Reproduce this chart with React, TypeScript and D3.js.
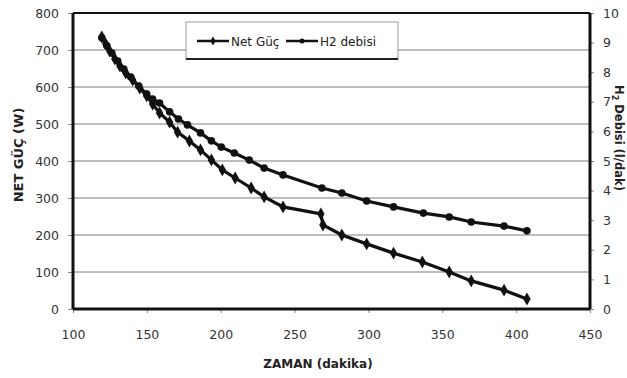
import React, { useEffect, useRef } from 'react';
import * as d3 from 'd3';

// time (dakika) and values
const netTime = [119.5, 122.2, 124.9, 128.3, 131.7, 135.7, 140.4, 145.2, 149.9, 153.9, 158.6, 165.4, 170.8, 178.8, 186.3, 193.7, 201.1, 209.8, 220.6, 229.4, 242.2, 267.8, 269.2, 282, 298.8, 317, 336.5, 354.7, 369.6, 391.8, 407.3];
const netPower = [735, 716, 697, 676, 657, 638, 619, 597, 576, 554, 530, 505, 478, 454, 430, 403, 376, 354, 327, 303, 276, 257, 227, 200, 176, 151, 127, 100, 76, 51, 27];

const h2Time = [119.5, 122.9, 126.3, 130.3, 134.4, 139.1, 144.5, 149.9, 153.9, 158.6, 165.4, 171.4, 177.5, 186.3, 193.7, 200.4, 209.2, 219.3, 229.4, 242.2, 268.5, 282, 298.8, 317, 337.2, 354.7, 369.6, 391.8, 407.3];
const h2Flow = [9.16, 8.89, 8.65, 8.38, 8.11, 7.84, 7.53, 7.26, 7.09, 6.96, 6.66, 6.42, 6.22, 5.95, 5.68, 5.47, 5.27, 5.03, 4.76, 4.53, 4.09, 3.92, 3.65, 3.45, 3.24, 3.11, 2.94, 2.8, 2.64];

const xTicks = [100, 150, 200, 250, 300, 350, 400, 450];
const leftTicks = [0, 100, 200, 300, 400, 500, 600, 700, 800];
const rightTicks = [0, 1, 2, 3, 4, 5, 6, 7, 8, 9, 10];

const W = 627;
const H = 378;
const FONT = 'DejaVu Sans, sans-serif';

export default function App() {
  const svgRef = useRef<SVGSVGElement>(null);

  useEffect(() => {
    const svgEl = svgRef.current;
    if (!svgEl) return;
    const svg = d3.select(svgEl);
    svg.selectAll('*').remove();

    const margin = { top: 13, right: 37, bottom: 69, left: 73 };
    const innerW = W - margin.left - margin.right;
    const innerH = H - margin.top - margin.bottom;

    const x = d3.scaleLinear().domain([100, 450]).range([0, innerW]);
    const yL = d3.scaleLinear().domain([0, 800]).range([innerH, 0]);
    const yR = d3.scaleLinear().domain([0, 10]).range([innerH, 0]);

    const g = svg.append('g').attr('transform', `translate(${margin.left},${margin.top})`);

    // grid lines
    g.selectAll('.grid')
      .data(leftTicks.filter(d => d > 0 && d < 800))
      .enter()
      .append('line')
      .attr('x1', 0)
      .attr('x2', innerW)
      .attr('y1', d => yL(d))
      .attr('y2', d => yL(d))
      .style('stroke', '#7a7a7a')
      .style('stroke-width', 1);

    // axes
    const left = g.append('g').call(d3.axisLeft(yL).tickValues(leftTicks).tickSize(5).tickPadding(9));
    const right = g.append('g')
      .attr('transform', `translate(${innerW},0)`)
      .call(d3.axisRight(yR).tickValues(rightTicks).tickSize(4).tickPadding(9));
    const bottom = g.append('g')
      .attr('transform', `translate(0,${innerH})`)
      .call(d3.axisBottom(x).tickValues(xTicks).tickSize(4).tickPadding(17));

    [left, right, bottom].forEach(ax => {
      ax.select('.domain').remove();
      ax.selectAll('.tick line').style('stroke', '#888').style('stroke-width', 1);
      ax.selectAll('text')
        .style('font-family', FONT)
        .style('font-size', '12.5px')
        .style('fill', '#333');
    });

    // frame
    g.append('line').attr('x1', 0).attr('x2', innerW).attr('y1', 0).attr('y2', 0)
      .style('stroke', '#111').style('stroke-width', 2);
    g.append('line').attr('x1', 0).attr('x2', innerW).attr('y1', innerH).attr('y2', innerH)
      .style('stroke', '#111').style('stroke-width', 3);
    g.append('line').attr('x1', 0).attr('x2', 0).attr('y1', 0).attr('y2', innerH)
      .style('stroke', '#111').style('stroke-width', 3);
    g.append('line').attr('x1', innerW).attr('x2', innerW).attr('y1', 0).attr('y2', innerH)
      .style('stroke', '#111').style('stroke-width', 3);

    // series
    const netData = netTime.map((t, i) => [t, netPower[i]] as [number, number]);
    const h2Data = h2Time.map((t, i) => [t, h2Flow[i]] as [number, number]);

    const netLine = d3.line<[number, number]>().x(d => x(d[0])).y(d => yL(d[1]));
    const h2Line = d3.line<[number, number]>().x(d => x(d[0])).y(d => yR(d[1]));

    g.append('path').datum(h2Data).attr('d', h2Line)
      .attr('fill', 'none').attr('stroke', '#111').attr('stroke-width', 3.2);
    g.append('path').datum(netData).attr('d', netLine)
      .attr('fill', 'none').attr('stroke', '#111').attr('stroke-width', 3.2);

    const diamond = d3.symbol().type(d3.symbolDiamond).size(48);
    g.selectAll('.net-dot')
      .data(netData)
      .enter()
      .append('path')
      .attr('d', diamond)
      .attr('transform', d => `translate(${x(d[0])},${yL(d[1])})`)
      .attr('fill', '#111');

    g.selectAll('.h2-dot')
      .data(h2Data)
      .enter()
      .append('circle')
      .attr('cx', d => x(d[0]))
      .attr('cy', d => yR(d[1]))
      .attr('r', 3.8)
      .attr('fill', '#111');

    // axis titles
    svg.append('text')
      .attr('transform', `translate(23,155) rotate(-90)`)
      .attr('text-anchor', 'middle')
      .style('font-family', FONT)
      .style('font-size', '13px')
      .style('font-weight', 'bold')
      .style('fill', '#222')
      .text('NET GÜÇ (W)');

    svg.append('text')
      .attr('x', 318)
      .attr('y', 368)
      .attr('text-anchor', 'middle')
      .style('font-family', FONT)
      .style('font-size', '12px')
      .style('font-weight', 'bold')
      .style('fill', '#222')
      .text('ZAMAN (dakika)');

    const rt = svg.append('text')
      .attr('transform', `translate(615,138) rotate(90)`)
      .attr('text-anchor', 'middle')
      .style('font-family', FONT)
      .style('font-size', '11.5px')
      .style('font-weight', 'bold')
      .style('fill', '#222');
    rt.append('tspan').text('H');
    rt.append('tspan').attr('dy', 3).style('font-size', '8px').text('2');
    rt.append('tspan').attr('dy', -3).text(' Debisi (l/dak)');

    // legend
    const lg = svg.append('g').attr('transform', 'translate(186,22)');
    lg.append('rect').attr('width', 212).attr('height', 37)
      .attr('fill', '#fff').attr('stroke', '#999').attr('stroke-width', 1);
    lg.append('line').attr('x1', 0).attr('x2', 212).attr('y1', 37).attr('y2', 37)
      .style('stroke', '#222').style('stroke-width', 2);
    const items = [
      { name: 'Net Güç', x0: 11, marker: 'diamond' },
      { name: 'H2 debisi', x0: 100, marker: 'circle' },
    ];
    items.forEach(it => {
      lg.append('line').attr('x1', it.x0).attr('x2', it.x0 + 32).attr('y1', 19).attr('y2', 19)
        .style('stroke', '#111').style('stroke-width', 2.5);
      if (it.marker === 'diamond') {
        lg.append('path').attr('d', d3.symbol().type(d3.symbolDiamond).size(24))
          .attr('transform', `translate(${it.x0 + 16},19)`).attr('fill', '#111');
      } else {
        lg.append('circle').attr('cx', it.x0 + 16).attr('cy', 19).attr('r', 2.5).attr('fill', '#111');
      }
      lg.append('text').attr('x', it.x0 + 34).attr('y', 23.5)
        .style('font-family', FONT).style('font-size', '12px').style('fill', '#222')
        .text(it.name);
    });
  }, []);

  return <svg ref={svgRef} width={W} height={H} style={{ display: 'block', position: 'absolute', left: 0, top: 0 }} />;
}
